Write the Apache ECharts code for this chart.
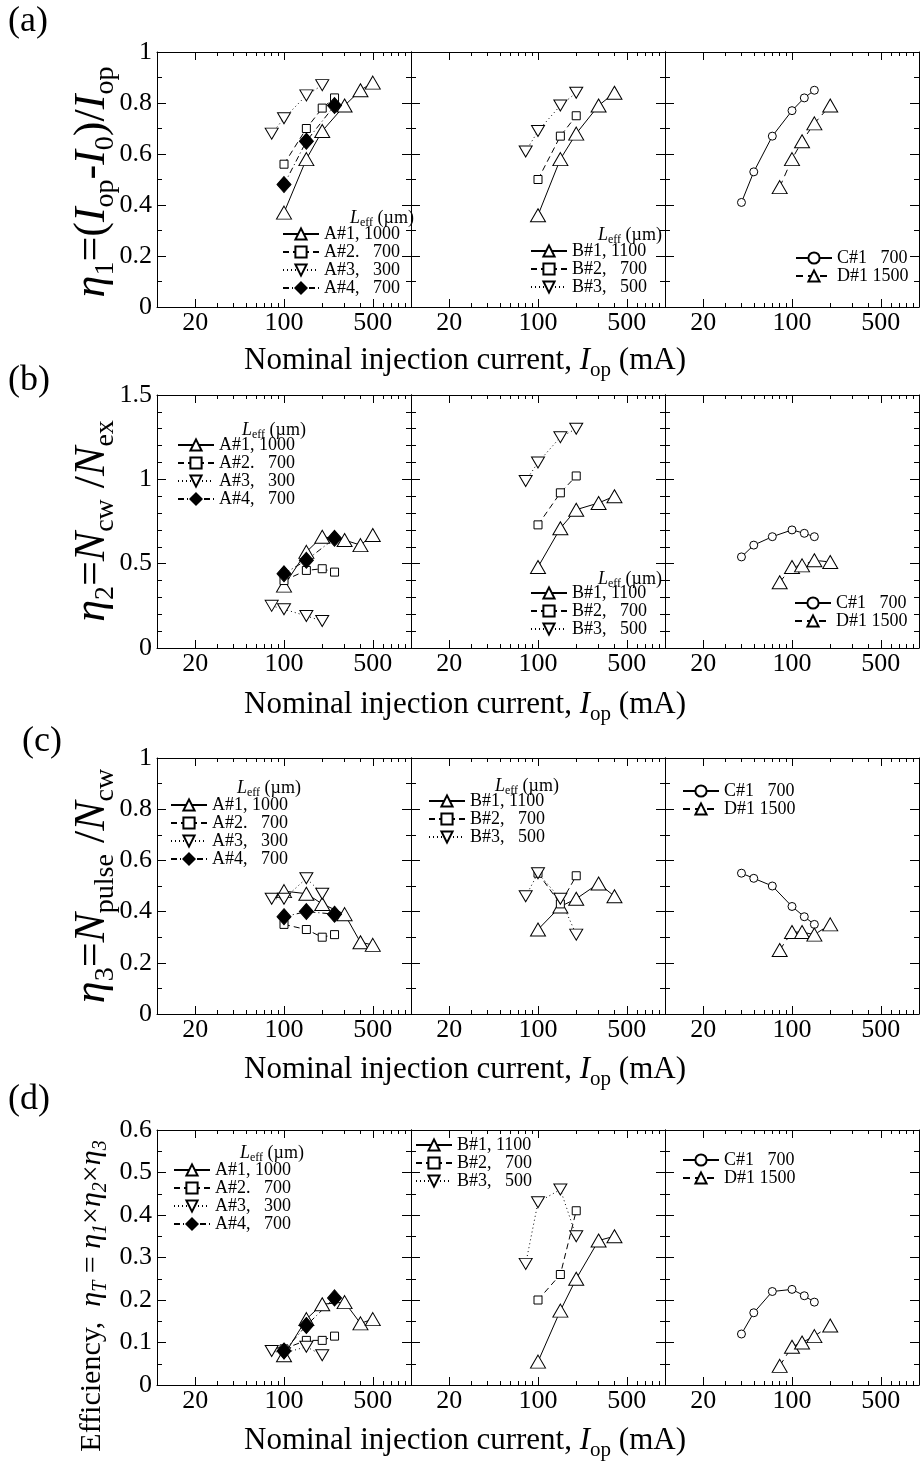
<!DOCTYPE html>
<html><head><meta charset="utf-8">
<script src="https://cdn.jsdelivr.net/npm/echarts@6/dist/echarts.min.js"></script>
<style>html,body{margin:0;padding:0;background:#fff}#c{width:922px;height:1462px}</style>
</head><body><div id="c"></div>
<script>
// ---------- data ----------
const xTicksMajor = [20, 100, 500];
const xTicksMinor = [30, 40, 50, 60, 70, 80, 90, 200, 300, 400, 600, 700, 800, 900];

// injection currents (mA) for each device
const xA1 = [100, 150, 200, 300, 400, 500];
const xA2 = [100, 150, 200, 250];
const xA3 = [80, 100, 150, 200];
const xA4 = [100, 150, 250];
const xB1 = [100, 150, 200, 300, 400];
const xB2 = [100, 150, 200];
const xB3 = [80, 100, 150, 200];
const xC1 = [40, 50, 70, 100, 125, 150];
const xD1 = [80, 100, 120, 150, 200];

// (a) eta1
const eta1_A1 = [0.37, 0.58, 0.69, 0.79, 0.85, 0.88];
const eta1_A2 = [0.56, 0.70, 0.78, 0.82];
const eta1_A3 = [0.68, 0.74, 0.83, 0.87];
const eta1_A4 = [0.48, 0.65, 0.79];
const eta1_B1 = [0.36, 0.58, 0.68, 0.79, 0.84];
const eta1_B2 = [0.50, 0.67, 0.75];
const eta1_B3 = [0.61, 0.69, 0.79, 0.84];
const eta1_C1 = [0.41, 0.53, 0.67, 0.77, 0.82, 0.85];
const eta1_D1 = [0.47, 0.58, 0.65, 0.72, 0.79];

// (b) eta2
const eta2_A1 = [0.37, 0.57, 0.66, 0.64, 0.61, 0.67];
const eta2_A2 = [0.40, 0.46, 0.47, 0.45];
const eta2_A3 = [0.25, 0.23, 0.19, 0.16];
const eta2_A4 = [0.44, 0.52, 0.65];
const eta2_B1 = [0.48, 0.71, 0.82, 0.86, 0.90];
const eta2_B2 = [0.73, 0.92, 1.02];
const eta2_B3 = [0.99, 1.10, 1.25, 1.30];
const eta2_C1 = [0.54, 0.61, 0.66, 0.70, 0.68, 0.66];
const eta2_D1 = [0.39, 0.48, 0.49, 0.52, 0.51];

// (c) eta3
const eta3_A1 = [0.48, 0.47, 0.43, 0.39, 0.28, 0.27];
const eta3_A2 = [0.35, 0.33, 0.30, 0.31];
const eta3_A3 = [0.45, 0.45, 0.53, 0.47];
const eta3_A4 = [0.38, 0.40, 0.39];
const eta3_B1 = [0.33, 0.42, 0.45, 0.51, 0.46];
const eta3_B2 = [0.55, 0.43, 0.54];
const eta3_B3 = [0.46, 0.55, 0.45, 0.31];
const eta3_C1 = [0.55, 0.53, 0.50, 0.42, 0.38, 0.35];
const eta3_D1 = [0.25, 0.32, 0.32, 0.31, 0.35];

// (d) etaT
const etaT_A1 = [0.07, 0.155, 0.19, 0.195, 0.145, 0.155];
const etaT_A2 = [0.085, 0.105, 0.105, 0.115];
const etaT_A3 = [0.08, 0.075, 0.09, 0.07];
const etaT_A4 = [0.08, 0.14, 0.205];
const etaT_B1 = [0.055, 0.175, 0.25, 0.34, 0.35];
const etaT_B2 = [0.20, 0.26, 0.41];
const etaT_B3 = [0.285, 0.43, 0.46, 0.35];
const etaT_C1 = [0.12, 0.17, 0.22, 0.225, 0.21, 0.195];
const etaT_D1 = [0.045, 0.09, 0.10, 0.115, 0.14];

const nameA = ['A#1, 1000', 'A#2.   700', 'A#3,   300', 'A#4,   700'];
const nameB = ['B#1, 1100', 'B#2,   700', 'B#3,   500'];
const nameCD = ['C#1   700', 'D#1 1500'];

// ---------- styles ----------
const FONT = 'Liberation Serif';
const DASH = [6, 4], DOT = [1, 3], DASHDOT = [6, 3, 1, 3];
const mk = {
  tri:  {symbol: 'triangle', size: [15, 13], rot: 0,   fill: '#fff'},
  sq:   {symbol: 'rect',     size: [8, 8],   rot: 0,   fill: '#fff'},
  dtri: {symbol: 'triangle', size: [13, 11], rot: 180, fill: '#fff'},
  dia:  {symbol: 'diamond',  size: [14, 16], rot: 0,   fill: '#000'},
  circ: {symbol: 'circle',   size: [8, 8],   rot: 0,   fill: '#fff'}
};
const devices = [
  {sub: 0, name: nameA[0], x: xA1, m: mk.tri,  line: 'solid', v: [eta1_A1, eta2_A1, eta3_A1, etaT_A1]},
  {sub: 0, name: nameA[1], x: xA2, m: mk.sq,   line: DASH,    v: [eta1_A2, eta2_A2, eta3_A2, etaT_A2]},
  {sub: 0, name: nameA[2], x: xA3, m: mk.dtri, line: DOT,     v: [eta1_A3, eta2_A3, eta3_A3, etaT_A3]},
  {sub: 0, name: nameA[3], x: xA4, m: mk.dia,  line: DASHDOT, v: [eta1_A4, eta2_A4, eta3_A4, etaT_A4]},
  {sub: 1, name: nameB[0], x: xB1, m: mk.tri,  line: 'solid', v: [eta1_B1, eta2_B1, eta3_B1, etaT_B1]},
  {sub: 1, name: nameB[1], x: xB2, m: mk.sq,   line: DASH,    v: [eta1_B2, eta2_B2, eta3_B2, etaT_B2]},
  {sub: 1, name: nameB[2], x: xB3, m: mk.dtri, line: DOT,     v: [eta1_B3, eta2_B3, eta3_B3, etaT_B3]},
  {sub: 2, name: nameCD[0], x: xC1, m: mk.circ, line: 'solid', v: [eta1_C1, eta2_C1, eta3_C1, etaT_C1]},
  {sub: 2, name: nameCD[1], x: xD1, m: mk.tri,  line: [7, 5], v: [eta1_D1, eta2_D1, eta3_D1, etaT_D1]}
];
const legendNames = [nameA, nameB, nameCD];

const rows = [
  {top: 52,   h: 255, max: 1,   int: 0.2, minor: 2,
   leg: [[282, 225], [530, 242], [795, 249]], head: [[350, 218], [598, 235], null],
   letter: [8, 22], yTitleY: 182, xTitleY: 361,
   yTitle: '{i|η}{s|1}{n|=(}{i|I}{s|op}{n|-}{i|I}{s|0}{n|)/}{i|I}{s|op}'},
  {top: 395,  h: 253, max: 1.5, int: 0.5, minor: 5,
   leg: [[177, 436], [530, 584], [794, 594]], head: [[242, 430], [598, 579], null],
   letter: [8, 381], yTitleY: 521, xTitleY: 705,
   yTitle: '{i|η}{s|2}{n|=}{i|N}{s|cw}{n| /}{i|N}{s|ex}'},
  {top: 758,  h: 256, max: 1,   int: 0.2, minor: 2,
   leg: [[170, 796], [428, 792], [682, 782]], head: [[237, 788], [495, 786], null],
   letter: [22, 742], yTitleY: 886, xTitleY: 1070,
   yTitle: '{i|η}{s|3}{n|=}{i|N}{s|pulse}{n| /}{i|N}{s|cw}'},
  {top: 1130, h: 255, max: 0.6, int: 0.1, minor: 2,
   leg: [[173, 1161], [415, 1136], [682, 1151]], head: [[240, 1153], null, null],
   letter: [8, 1100], yTitleY: 1296, xTitleY: 1441,
   yTitle: '{n|Efficiency,  }{i|η}{si|T}{n| = }{i|η}{si|1}{n|×}{i|η}{si|2}{n|×}{i|η}{si|3}'}
];
const letters = ['(a)', '(b)', '(c)', '(d)'];
const subLefts = [157, 411, 665];
const subWidth = 254;

// ---------- build option ----------
const grids = [], xAxes = [], yAxes = [], series = [], legends = [], graphics = [];
const black = {color: '#000', width: 1};
const majLog = xTicksMajor.map(v => Math.log10(v));
const minLog = xTicksMinor.map(v => Math.log10(v));

rows.forEach((row, r) => {
  for (let s = 0; s < 3; s++) {
    const g = grids.length;
    grids.push({left: subLefts[s], top: row.top, width: subWidth, height: row.h, containLabel: false});
    const xData = xAxes.length;
    xAxes.push({gridIndex: g, type: 'log', logBase: 10, min: 10, max: 1000, show: false});
    ['bottom', 'top'].forEach(pos => {
      xAxes.push({gridIndex: g, type: 'value', position: pos, min: 1, max: 3,
        axisLine: {show: true, onZero: false, lineStyle: black},
        axisTick: {show: true, inside: true, length: 8, customValues: majLog, lineStyle: black},
        axisLabel: {show: pos === 'bottom', customValues: majLog,
          formatter: v => String(Math.round(Math.pow(10, v))),
          fontFamily: FONT, fontSize: 26, color: '#000', margin: 3},
        splitLine: {show: false}});
      xAxes.push({gridIndex: g, type: 'value', position: pos, min: 1, max: 3,
        axisLine: {show: false, onZero: false},
        axisTick: {show: true, inside: true, length: 4, customValues: minLog, lineStyle: black},
        axisLabel: {show: false}, splitLine: {show: false}});
    });
    const yLeft = yAxes.length;
    ['left', 'right'].forEach(pos => {
      yAxes.push({gridIndex: g, type: 'value', position: pos, min: 0, max: row.max, interval: row.int,
        axisLine: {show: true, onZero: false, lineStyle: black},
        axisTick: {show: true, inside: true, length: 9, lineStyle: black},
        minorTick: {show: true, splitNumber: row.minor, length: 5, lineStyle: black},
        axisLabel: {show: pos === 'left' && s === 0, fontFamily: FONT, fontSize: 26, color: '#000', margin: 5},
        splitLine: {show: false}});
    });
    devices.filter(d => d.sub === s).forEach(d => {
      series.push({type: 'line', name: d.name, xAxisIndex: xData, yAxisIndex: yLeft,
        data: d.x.map((xv, i) => [xv, d.v[r][i]]),
        symbol: d.m.symbol, symbolSize: d.m.size, symbolRotate: d.m.rot, showSymbol: true,
        lineStyle: {color: '#000', width: 1, type: d.line},
        itemStyle: {color: d.m.fill, borderColor: '#000', borderWidth: 1},
        emphasis: {disabled: true}, animation: false, clip: false, z: 3});
    });
    legends.push({left: row.leg[s][0], top: row.leg[s][1], orient: 'vertical',
      itemWidth: 36, itemHeight: 14, itemGap: 0, padding: 0, selectedMode: false,
      textStyle: {fontFamily: FONT, fontSize: 18, color: '#000', lineHeight: 18},
      data: legendNames[s]});
    if (row.head[s]) {
      graphics.push({type: 'text', x: row.head[s][0], y: row.head[s][1], silent: true,
        style: {text: '{i|L}{s|eff}{n| (µm)}', align: 'left', verticalAlign: 'middle',
          rich: {
            i: {fontFamily: FONT, fontStyle: 'italic', fontSize: 18, lineHeight: 22, verticalAlign: 'middle', fill: '#000'},
            n: {fontFamily: FONT, fontSize: 18, lineHeight: 22, verticalAlign: 'middle', fill: '#000'},
            s: {fontFamily: FONT, fontSize: 12, lineHeight: 12, verticalAlign: 'bottom', fill: '#000'}
          }}});
    }
  }
  // panel letter
  graphics.push({type: 'text', x: row.letter[0], y: row.letter[1], silent: true,
    style: {text: letters[r], fontFamily: FONT, fontSize: 36, fill: '#000', align: 'left', verticalAlign: 'middle'}});
  // x title
  graphics.push({type: 'text', x: 244, y: row.xTitleY, silent: true,
    style: {text: '{n|Nominal injection current, }{i|I}{s|op}{n| (mA)}', align: 'left', verticalAlign: 'middle',
      rich: {
        n: {fontFamily: FONT, fontSize: 31, lineHeight: 39, verticalAlign: 'middle', fill: '#000'},
        i: {fontFamily: FONT, fontStyle: 'italic', fontSize: 31, lineHeight: 39, verticalAlign: 'middle', fill: '#000'},
        s: {fontFamily: FONT, fontSize: 21, lineHeight: 21, verticalAlign: 'bottom', fill: '#000'}
      }}});
  // y title
  const big = r < 3;
  const fs = big ? 44 : 30, ss = big ? 28 : 20, lh = big ? 56 : 38;
  graphics.push({type: 'text', x: 92, y: row.yTitleY, rotation: Math.PI / 2, silent: true,
    style: {text: row.yTitle, align: 'center', verticalAlign: 'middle',
      rich: {
        n: {fontFamily: FONT, fontSize: fs, lineHeight: lh, verticalAlign: 'middle', fill: '#000'},
        i: {fontFamily: FONT, fontStyle: 'italic', fontSize: fs, lineHeight: lh, verticalAlign: 'middle', fill: '#000'},
        s: {fontFamily: FONT, fontSize: ss, lineHeight: ss, verticalAlign: 'bottom', fill: '#000'},
        si: {fontFamily: FONT, fontStyle: 'italic', fontSize: ss, lineHeight: ss, verticalAlign: 'bottom', fill: '#000'}
      }}});
});

const chart = echarts.init(document.getElementById('c'), null, {renderer: 'canvas'});
chart.setOption({
  backgroundColor: '#fff',
  animation: false,
  grid: grids, xAxis: xAxes, yAxis: yAxes, series: series, legend: legends,
  graphic: {elements: graphics}
});
</script>
</body></html>
